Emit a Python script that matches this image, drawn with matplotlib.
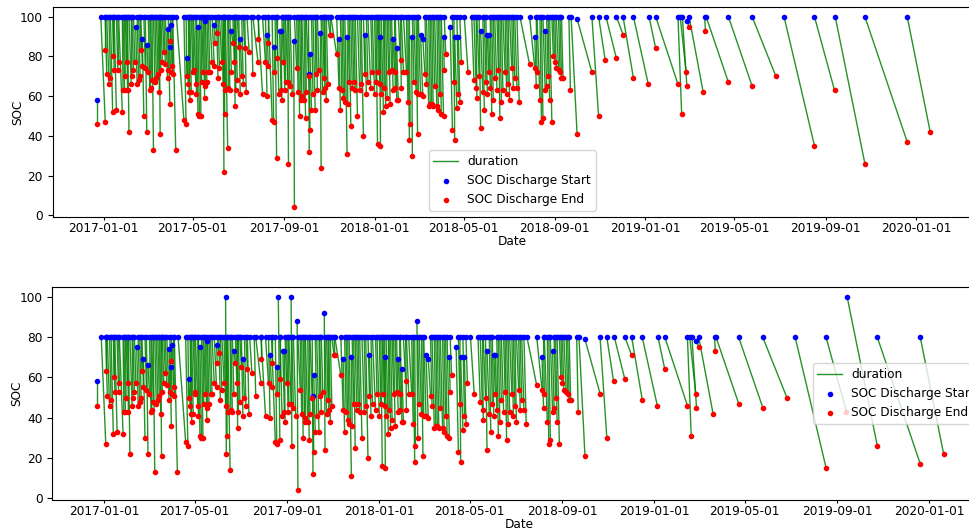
import numpy as np
import pandas as pd
import matplotlib
matplotlib.use('Agg')
import matplotlib.pyplot as plt
import matplotlib.dates as mdates

plt.rcParams['font.size'] = 8.7

# days since 2017-01-01 for every discharge event
start_day = [
    -9, -4, 2, 2, 4, 7, 9, 12, 13, 14,
    17, 19, 20, 25, 26, 28, 29, 31, 32, 34,
    37, 38, 40, 43, 45, 47, 49, 50, 52, 54,
    56, 58, 60, 62, 63, 65, 67, 69, 71, 73,
    75, 76, 77, 79, 81, 83, 86, 87, 89, 89,
    90, 92, 93, 98, 108, 111, 112, 114, 115, 116,
    118, 120, 121, 124, 125, 127, 129, 131, 132, 134,
    136, 137, 139, 141, 143, 146, 149, 150, 152, 154,
    156, 159, 161, 162, 163, 164, 167, 168, 170, 172,
    174, 176, 177, 178, 180, 182, 184, 186, 188, 190,
    193, 199, 201, 208, 208, 214, 218, 220, 222, 222,
    227, 229, 231, 233, 233, 237, 239, 240, 242, 244,
    245, 248, 249, 251, 256, 257, 260, 262, 264, 266,
    267, 270, 272, 273, 276, 277, 278, 280, 282, 285,
    286, 288, 292, 293, 295, 297, 298, 300, 302, 305,
    306, 314, 317, 319, 321, 323, 325, 328, 329, 331,
    333, 335, 337, 339, 342, 345, 347, 350, 352, 354,
    356, 360, 362, 365, 367, 369, 370, 372, 373, 374,
    377, 378, 380, 382, 384, 386, 388, 390, 392, 393,
    395, 397, 400, 401, 404, 408, 410, 412, 415, 416,
    418, 421, 423, 424, 427, 430, 433, 435, 438, 440,
    442, 444, 446, 449, 451, 453, 455, 458, 459, 467,
    470, 472, 473, 476, 478, 480, 486, 496, 499, 502,
    503, 506, 508, 511, 513, 515, 517, 519, 521, 523,
    525, 527, 530, 532, 534, 536, 538, 541, 543, 545,
    547, 550, 552, 554, 557, 561, 574, 581, 583, 584,
    588, 590, 592, 595, 597, 599, 601, 604, 606, 608,
    610, 613, 615, 617, 627, 630, 638, 658, 667, 677,
    691, 700, 714, 735, 744, 774, 777, 780, 786, 789,
    810, 812, 842, 874, 917, 958, 986, 1026, 1083,
]
end_day = [
    -9, 2, 2, 4, 7, 9, 12, 13, 14, 17,
    19, 20, 25, 26, 28, 29, 31, 32, 34, 37,
    38, 40, 42, 45, 47, 49, 50, 52, 54, 56,
    58, 60, 62, 63, 65, 67, 69, 71, 73, 75,
    76, 77, 79, 81, 83, 86, 87, 89, 89, 90,
    92, 93, 97, 108, 111, 112, 114, 115, 116, 118,
    120, 121, 124, 125, 127, 129, 131, 132, 134, 136,
    137, 139, 141, 143, 146, 149, 150, 152, 154, 156,
    159, 161, 162, 163, 164, 167, 168, 170, 172, 174,
    176, 177, 178, 180, 182, 184, 186, 188, 190, 192,
    196, 201, 208, 208, 214, 218, 220, 222, 222, 227,
    229, 229, 233, 233, 236, 239, 240, 242, 244, 245,
    248, 249, 251, 254, 257, 260, 262, 264, 266, 267,
    270, 272, 273, 276, 277, 278, 280, 282, 285, 286,
    288, 290, 293, 295, 297, 298, 300, 302, 305, 306,
    314, 317, 319, 321, 323, 325, 328, 329, 331, 333,
    335, 337, 339, 342, 345, 347, 350, 352, 354, 356,
    360, 362, 365, 367, 369, 370, 372, 373, 374, 377,
    378, 380, 382, 384, 386, 388, 390, 392, 393, 395,
    397, 400, 401, 404, 408, 410, 412, 413, 416, 418,
    421, 423, 424, 427, 430, 433, 435, 438, 440, 442,
    444, 446, 449, 451, 453, 455, 458, 459, 461, 470,
    472, 473, 476, 478, 480, 482, 491, 499, 502, 503,
    506, 508, 511, 513, 515, 517, 519, 521, 523, 525,
    527, 530, 532, 534, 536, 538, 541, 543, 545, 547,
    550, 552, 554, 557, 560, 574, 581, 583, 584, 588,
    590, 592, 595, 597, 599, 601, 604, 606, 608, 610,
    613, 615, 617, 619, 629, 638, 658, 667, 676, 691,
    700, 714, 734, 744, 774, 779, 785, 786, 789, 808,
    811, 842, 874, 906, 958, 985, 1026, 1083, 1114,
]

# SOC with charging to 100 %
soc_start_top = [
    58, 100, 100, 100, 100, 100, 100, 100, 100, 100,
    100, 100, 100, 100, 100, 100, 100, 100, 100, 100,
    100, 100, 100, 95, 100, 100, 100, 100, 89, 100,
    100, 86, 100, 100, 100, 100, 100, 100, 100, 100,
    100, 100, 100, 100, 100, 100, 94, 100, 100, 85,
    96, 100, 100, 100, 100, 100, 79, 100, 100, 100,
    100, 100, 100, 100, 100, 95, 100, 100, 100, 100,
    98, 100, 100, 100, 100, 100, 96, 100, 100, 100,
    100, 100, 100, 100, 100, 100, 100, 100, 100, 93,
    100, 100, 100, 100, 100, 100, 89, 100, 100, 100,
    100, 100, 100, 100, 100, 100, 100, 91, 100, 100,
    100, 85, 100, 100, 100, 93, 93, 100, 100, 100,
    100, 100, 100, 100, 88, 100, 100, 100, 100, 100,
    100, 100, 100, 100, 100, 71, 81, 100, 100, 100,
    100, 100, 92, 100, 100, 100, 100, 100, 100, 100,
    100, 100, 89, 100, 100, 100, 100, 90, 100, 100,
    100, 100, 100, 100, 100, 100, 100, 100, 91, 100,
    100, 100, 100, 100, 100, 100, 100, 100, 90, 100,
    100, 100, 100, 100, 100, 100, 100, 89, 100, 100,
    84, 100, 100, 100, 100, 100, 100, 100, 90, 100,
    100, 100, 100, 100, 91, 89, 100, 100, 100, 100,
    100, 100, 100, 100, 100, 100, 100, 90, 100, 95,
    100, 100, 90, 100, 90, 100, 100, 100, 100, 100,
    100, 100, 93, 100, 100, 100, 91, 91, 100, 100,
    100, 100, 100, 100, 100, 100, 100, 100, 100, 100,
    100, 100, 100, 100, 100, 100, 100, 90, 100, 100,
    100, 100, 100, 93, 100, 100, 100, 100, 100, 100,
    100, 100, 100, 100, 100, 100, 99, 100, 100, 100,
    100, 100, 100, 100, 100, 100, 100, 100, 98, 100,
    100, 100, 100, 100, 100, 100, 100, 100, 100,
]
soc_end_top = [
    46, 47, 83, 71, 66, 69, 52, 80, 73, 53,
    73, 77, 52, 63, 63, 70, 77, 63, 42, 66,
    70, 73, 77, 66, 68, 70, 83, 75, 50, 74,
    42, 72, 63, 64, 68, 33, 67, 69, 71, 62,
    41, 73, 77, 82, 76, 69, 73, 56, 88, 72,
    75, 71, 33, 48, 46, 70, 66, 62, 58, 62,
    72, 73, 66, 61, 51, 50, 50, 67, 72, 59,
    65, 67, 72, 72, 77, 75, 87, 92, 69, 74,
    77, 66, 22, 51, 63, 34, 64, 63, 72, 87,
    77, 55, 63, 68, 85, 61, 70, 66, 84, 62,
    82, 71, 77, 89, 61, 77, 60, 75, 87, 48,
    47, 72, 29, 79, 61, 63, 58, 77, 63, 67,
    67, 26, 65, 61, 4, 74, 62, 50, 58, 60,
    58, 49, 62, 70, 32, 43, 53, 61, 53, 71,
    63, 73, 24, 62, 69, 64, 58, 66, 91, 91,
    81, 64, 53, 63, 59, 57, 31, 56, 67, 45,
    64, 67, 63, 50, 63, 66, 40, 71, 61, 67,
    64, 72, 61, 67, 36, 72, 66, 35, 61, 52,
    64, 55, 59, 72, 56, 73, 63, 72, 64, 58,
    58, 78, 64, 72, 72, 57, 38, 46, 30, 67,
    62, 41, 61, 61, 60, 71, 66, 55, 56, 56,
    55, 65, 55, 53, 61, 51, 50, 73, 81, 43,
    67, 38, 54, 61, 57, 77, 72, 68, 64, 59,
    70, 44, 62, 53, 67, 61, 72, 64, 51, 58,
    69, 63, 73, 49, 57, 63, 72, 61, 66, 58,
    74, 64, 69, 64, 57, 76, 74, 65, 72, 58,
    47, 49, 63, 65, 70, 58, 47, 80, 77, 74,
    73, 72, 69, 69, 63, 41, 72, 50, 78, 79,
    91, 69, 66, 84, 66, 51, 72, 65, 95, 62,
    93, 67, 65, 70, 35, 63, 26, 37, 42,
]

# SOC with charging to 80 %
soc_start_bottom = [
    58, 80, 80, 80, 80, 80, 80, 80, 80, 80,
    80, 80, 80, 80, 80, 80, 80, 80, 80, 80,
    80, 80, 80, 75, 80, 80, 80, 80, 69, 80,
    80, 66, 80, 80, 80, 80, 80, 80, 80, 80,
    80, 80, 80, 80, 80, 80, 74, 80, 80, 65,
    76, 80, 80, 80, 80, 80, 59, 80, 80, 80,
    80, 80, 80, 80, 80, 75, 80, 80, 80, 80,
    78, 80, 80, 80, 80, 80, 76, 80, 80, 80,
    80, 80, 100, 80, 80, 80, 80, 80, 80, 73,
    80, 80, 80, 80, 80, 80, 69, 80, 80, 80,
    80, 80, 80, 80, 80, 80, 80, 71, 80, 80,
    80, 65, 100, 80, 80, 73, 73, 80, 80, 80,
    80, 100, 80, 80, 88, 80, 80, 80, 80, 80,
    80, 80, 80, 80, 80, 51, 61, 80, 80, 80,
    80, 80, 92, 80, 80, 80, 80, 80, 80, 80,
    80, 80, 69, 80, 80, 80, 80, 70, 80, 80,
    80, 80, 80, 80, 80, 80, 80, 80, 71, 80,
    80, 80, 80, 80, 80, 80, 80, 80, 70, 80,
    80, 80, 80, 80, 80, 80, 80, 69, 80, 80,
    64, 80, 80, 80, 80, 80, 80, 80, 88, 80,
    80, 80, 80, 80, 71, 69, 80, 80, 80, 80,
    80, 80, 80, 80, 80, 80, 80, 70, 80, 75,
    80, 80, 70, 80, 70, 80, 80, 80, 80, 80,
    80, 80, 73, 80, 80, 80, 71, 71, 80, 80,
    80, 80, 80, 80, 80, 80, 80, 80, 80, 80,
    80, 80, 80, 80, 80, 80, 80, 70, 80, 80,
    80, 80, 80, 73, 80, 80, 80, 80, 80, 80,
    80, 80, 80, 80, 80, 80, 79, 80, 80, 80,
    80, 80, 80, 80, 80, 80, 80, 80, 78, 80,
    80, 80, 80, 80, 80, 80, 100, 80, 80,
]
soc_end_bottom = [
    46, 27, 63, 51, 46, 49, 32, 60, 53, 33,
    53, 57, 32, 43, 43, 50, 57, 43, 22, 46,
    50, 53, 57, 46, 48, 50, 63, 55, 30, 54,
    22, 52, 43, 44, 48, 13, 47, 49, 51, 42,
    21, 53, 57, 62, 56, 49, 53, 36, 68, 52,
    55, 51, 13, 28, 26, 50, 46, 42, 38, 42,
    52, 53, 46, 41, 31, 30, 30, 47, 52, 39,
    45, 47, 52, 52, 57, 55, 67, 72, 49, 54,
    57, 46, 22, 31, 43, 14, 44, 43, 52, 67,
    57, 35, 43, 48, 65, 41, 50, 46, 64, 42,
    62, 51, 57, 69, 41, 57, 40, 55, 67, 28,
    27, 52, 29, 59, 41, 43, 38, 57, 43, 47,
    47, 26, 45, 41, 4, 54, 42, 30, 38, 40,
    38, 29, 42, 50, 12, 23, 33, 41, 33, 51,
    43, 53, 24, 42, 49, 44, 38, 46, 71, 71,
    61, 44, 33, 43, 39, 37, 11, 36, 47, 25,
    44, 47, 43, 30, 43, 46, 20, 51, 41, 47,
    44, 52, 41, 47, 16, 52, 46, 15, 41, 32,
    44, 35, 39, 52, 36, 53, 43, 52, 44, 38,
    38, 58, 44, 52, 52, 37, 18, 26, 30, 47,
    42, 21, 41, 41, 40, 51, 46, 35, 36, 36,
    35, 45, 35, 33, 41, 31, 30, 53, 61, 23,
    47, 18, 34, 41, 37, 57, 52, 48, 44, 39,
    50, 24, 42, 33, 47, 41, 52, 44, 31, 38,
    49, 43, 53, 29, 37, 43, 52, 41, 46, 38,
    54, 44, 49, 44, 37, 56, 54, 45, 52, 38,
    27, 29, 43, 45, 50, 38, 27, 60, 57, 54,
    53, 52, 49, 49, 43, 21, 52, 30, 58, 59,
    71, 49, 46, 64, 46, 31, 52, 45, 75, 42,
    73, 47, 45, 50, 15, 43, 26, 17, 22,
]

BASE = pd.Timestamp('2017-01-01')


def to_dates(days):
    return BASE + pd.to_timedelta(np.array(days, dtype=float), unit='D')


def plot_discharge(ax, soc_start, soc_end, legend_loc):
    starts = to_dates(start_day)
    ends = to_dates(end_day)
    for i in range(len(starts)):
        ax.plot([starts[i], ends[i]], [soc_start[i], soc_end[i]], color='green',
                lw=1.0, alpha=0.85, label='duration' if i == 0 else None)
    ax.scatter(starts, soc_start, s=9, color='b', zorder=3, label='SOC Discharge Start')
    ax.scatter(ends, soc_end, s=9, color='r', zorder=4, label='SOC Discharge End')
    ax.set_xlim(BASE - pd.Timedelta(days=69), BASE + pd.Timedelta(days=1170))
    ax.set_ylim(-0.8, 104.8)
    ax.xaxis.set_major_locator(mdates.MonthLocator(bymonth=[1, 5, 9]))
    ax.xaxis.set_major_formatter(mdates.DateFormatter('%Y-%m-%d'))
    ax.tick_params(axis='x', length=2.5, pad=1.5)
    ax.set_xlabel('Date', labelpad=0)
    ax.set_ylabel('SOC', labelpad=-3)
    ax.legend(loc=legend_loc)


fig = plt.figure(figsize=(9.7, 5.29), dpi=100)
ax_top = fig.add_axes([0.0542, 0.590, 0.9476, 0.3964])
ax_bottom = fig.add_axes([0.0539, 0.0556, 0.9624, 0.401])

plot_discharge(ax_top, soc_start_top, soc_end_top, 'lower center')
plot_discharge(ax_bottom, soc_start_bottom, soc_end_bottom, 'center right')

fig.savefig('out.png', dpi=100)
